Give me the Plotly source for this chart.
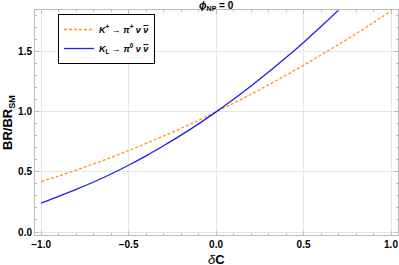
import plotly.graph_objects as go

dC = [-1.0, -0.9, -0.8, -0.7, -0.6, -0.5, -0.4, -0.3, -0.2, -0.1, 0.0,
      0.1, 0.2, 0.3, 0.4, 0.5, 0.6, 0.7, 0.8, 0.9, 1.0]
br_kplus = [0.42, 0.466, 0.515, 0.567, 0.621, 0.678, 0.737, 0.799, 0.863, 0.930, 1.0,
            1.072, 1.147, 1.225, 1.305, 1.388, 1.473, 1.561, 1.651, 1.744, 1.84]
br_kl = [0.24, 0.297, 0.354, 0.416, 0.483, 0.556, 0.634, 0.718, 0.806, 0.900, 1.0,
         1.105, 1.215, 1.331, 1.452, 1.578, 1.710, 1.847, 1.989, 2.14, 2.30]

x_ticks = [-1.0, -0.5, 0.0, 0.5, 1.0]
y_ticks = [0.0, 0.5, 1.0, 1.5]

FONT = "Liberation Sans"
NUBAR = "<span style='text-decoration:overline'><i>ν</i></span>"

fig = go.Figure()
fig.add_trace(go.Scatter(
    x=dC, y=br_kplus, mode="lines", line_shape="spline",
    line=dict(color="rgb(255,145,30)", width=1.3, dash="3px,2px"),
    name="<b><i>K</i><sup>+</sup> → <i>π</i><sup>+</sup> <i>ν</i> " + NUBAR + "</b>"))
fig.add_trace(go.Scatter(
    x=dC, y=br_kl, mode="lines", line_shape="spline",
    line=dict(color="rgb(30,30,245)", width=1.3),
    name="<b><i>K</i><sub>L</sub> → <i>π</i><sup>0</sup> <i>ν</i> " + NUBAR + "</b>"))

axis_common = dict(
    showline=True, linecolor="#bbbbbb", linewidth=1, mirror="allticks",
    ticks="inside", ticklen=4, tickcolor="#bbbbbb",
    showgrid=True, gridcolor="#e6e6e6", gridwidth=1, zeroline=False,
    automargin=False,
    tickfont=dict(family=FONT, size=10, color="black", weight="bold"),
    minor=dict(ticks="inside", ticklen=2, tickcolor="#bbbbbb", showgrid=False),
)

fig.update_layout(
    width=399, height=265,
    margin=dict(l=35, r=1, t=10, b=30),
    paper_bgcolor="white", plot_bgcolor="white",
    showlegend=True,
    legend=dict(x=(58 - 35) / 363, y=(235 - 14) / 225, xanchor="left", yanchor="top",
                bgcolor="white", bordercolor="black", borderwidth=1,
                font=dict(family=FONT, size=9, color="black"),
                tracegroupgap=0, itemwidth=30),
    annotations=[
        dict(text="<b><i>ϕ</i><sub>NP</sub> = 0</b>", x=0.0, xref="x",
             y=1.0, yref="paper", yanchor="bottom", showarrow=False,
             font=dict(family=FONT, size=10, color="black"), yshift=-4),
        dict(text="<i>δ</i><b>C</b>", x=0.0, xref="x", y=0, yref="paper",
             yanchor="top", showarrow=False, yshift=-15,
             font=dict(family=FONT, size=13, color="black")),
        dict(text="<b>BR/BR<sub>SM</sub></b>", x=0, xref="paper", y=0.5, yref="paper",
             xanchor="right", showarrow=False, textangle=-90, xshift=-16,
             font=dict(family=FONT, size=13, color="black")),
    ],
)
fig.update_xaxes(range=[-1.035, 1.04], tickvals=x_ticks, tickformat=".1f",
                 minor_dtick=0.1, **axis_common)
fig.update_yaxes(range=[-0.025, 1.848], tickvals=y_ticks, tickformat=".1f",
                 minor_dtick=0.1, **axis_common)

fig.write_html("out.html", config={"displayModeBar": False},
               post_script="document.body.style.margin='0';document.body.style.padding='0';")
